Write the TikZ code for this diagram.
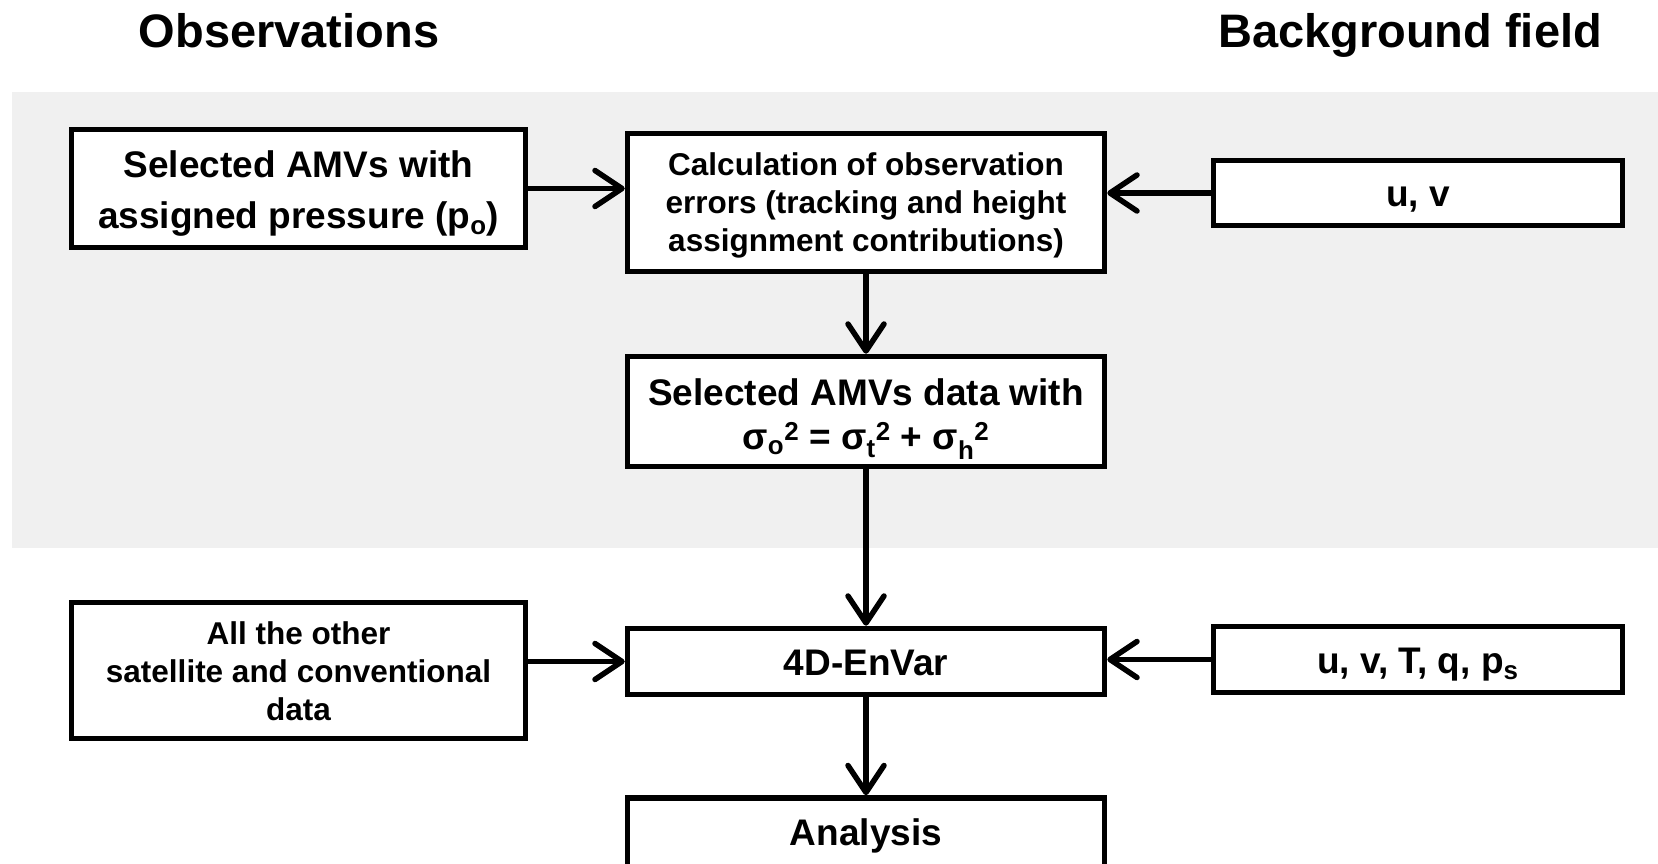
\documentclass[tikz,border=0pt]{standalone}
\usepackage{fontspec}
\setmainfont{Liberation Sans}
\usetikzlibrary{arrows.meta}
\definecolor{bggray}{RGB}{240,240,240}
\tikzset{
  box/.style={draw=black, line width=5.5pt, fill=white, inner sep=0pt},
  bigtxt/.style={align=center, inner sep=0pt, font=\bfseries\fontsize{37}{51}\selectfont},
  smalltxt/.style={align=center, inner sep=0pt, font=\bfseries\fontsize{31.5}{38}\selectfont},
  title/.style={font=\bfseries\fontsize{47}{56}\selectfont, inner sep=0pt, anchor=base},
  conn/.style={line width=5.5pt, -{Straight Barb[length=27pt,width=36pt,line cap=round,line join=round]}}
}
\begin{document}
\begin{tikzpicture}[x=1pt,y=-1pt]
\useasboundingbox (0,0) rectangle (1658,864);
\fill[bggray] (12,92) rectangle (1658,548);
\node[title] (obs) at (289,48) {Observations};
\node[title] (bgf) at (1410,48) {Background field};
% boxes
\node[box, minimum width=454pt, minimum height=118pt] (A) at (298.5,188.5) {};
\node[box, minimum width=477pt, minimum height=138pt] (B) at (866,202.5) {};
\node[box, minimum width=409pt, minimum height=65pt] (C) at (1418,193) {};
\node[box, minimum width=477pt, minimum height=110pt] (D) at (866,411.5) {};
\node[box, minimum width=454pt, minimum height=136pt] (E) at (298.5,670.5) {};
\node[box, minimum width=477pt, minimum height=66pt] (F) at (866,661.5) {};
\node[box, minimum width=409pt, minimum height=66pt] (G) at (1418,659.5) {};
\node[box, minimum width=477pt, minimum height=84pt] (H) at (866,840) {};
% texts
\node[bigtxt] (At) at (298.5,194) {Selected AMVs with\\assigned pressure (p\textsubscript{o})};
\node[smalltxt] (Bt) at (866,205.5) {Calculation of observation\\errors (tracking and height\\assignment contributions)};
\node[bigtxt] (Ct) at (1418,199.5) {u, v};
\node[bigtxt, font=\bfseries\fontsize{37}{44}\selectfont] (Dt) at (866,419) {Selected AMVs data with\\σ\textsubscript{o}\textsuperscript{2} = σ\textsubscript{t}\textsuperscript{2} + σ\textsubscript{h}\textsuperscript{2}};
\node[smalltxt] (Et) at (298.5,671.5) {All the other\\satellite and conventional\\data};
\node[bigtxt] (Ft) at (866,662.5) {4D-EnVar};
\node[bigtxt] (Gt) at (1418,665) {u, v, T, q, p\textsubscript{s}};
\node[bigtxt] (Ht) at (866,836) {Analysis};
% connectors
\draw[conn] (A.east) -- (A.east -| B.west);
\draw[conn] (C.west) -- (C.west -| B.east);
\draw[conn] (B.south) -- (D.north);
\draw[conn] (D.south) -- (F.north);
\draw[conn] (E.east |- F.west) -- (F.west);
\draw[conn] (G.west) -- (G.west -| F.east);
\draw[conn] (F.south) -- (H.north);
\end{tikzpicture}
\end{document}
